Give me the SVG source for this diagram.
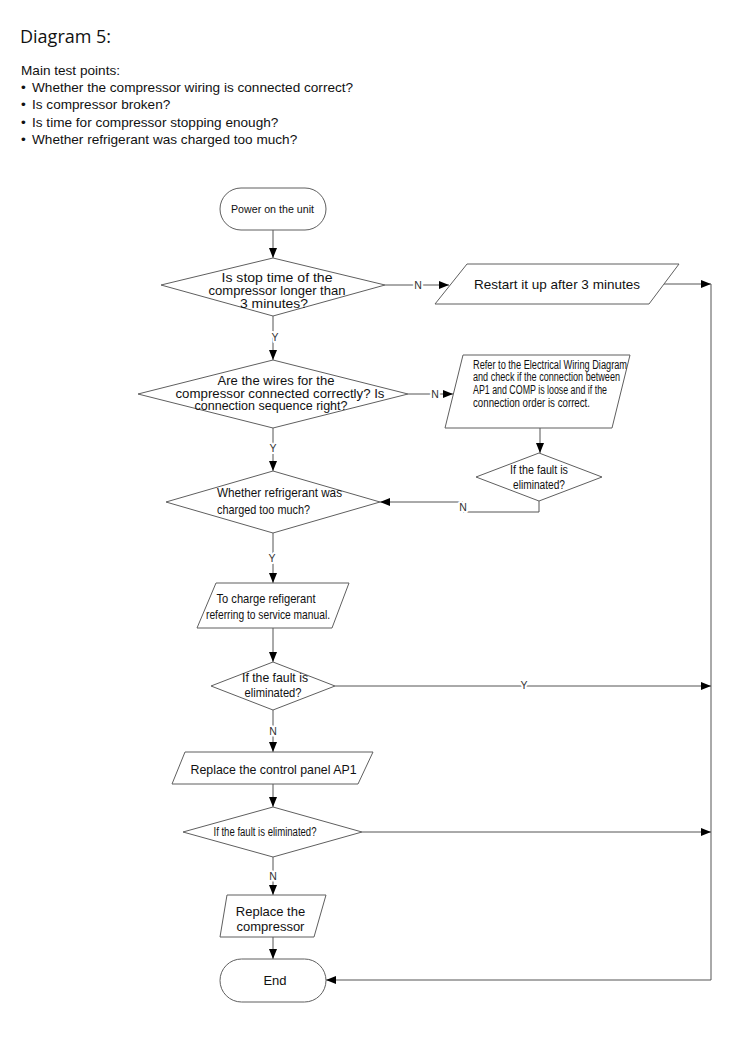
<svg xmlns="http://www.w3.org/2000/svg" width="750" height="1040" viewBox="0 0 750 1040">
<defs>
<style>
.bg{fill:#fff}
.sh{fill:#fff;stroke:#5f5f5f;stroke-width:1}
.cn{fill:none;stroke:#555;stroke-width:1}
.t{font-family:"Liberation Sans",Arial,sans-serif;fill:#111}
.c{text-anchor:middle}
.lb{font-family:"Liberation Sans",Arial,sans-serif;font-size:10.5px;fill:#333;text-anchor:middle;stroke:#fff;stroke-width:4;paint-order:stroke;stroke-linejoin:round}
.hd{font-family:"Liberation Sans",Arial,sans-serif;font-size:13.6px;fill:#111}
</style>
<marker id="arr" markerUnits="userSpaceOnUse" markerWidth="10" markerHeight="8" refX="10" refY="4" orient="auto">
<path d="M0,0 L10,4 L0,8 z" fill="#000"/>
</marker>
</defs>
<rect class="bg" x="0" y="0" width="750" height="1040"/>

<g id="header">
<text x="20" y="43" style="font-family:'Open Sans','DejaVu Sans',sans-serif;font-size:18px;fill:#111">Diagram 5:</text>
<text class="hd" x="21" y="75">Main test points:</text>
<text class="hd" y="91.5"><tspan x="21">•</tspan><tspan x="32">Whether the compressor wiring is connected correct?</tspan></text>
<text class="hd" y="109"><tspan x="21">•</tspan><tspan x="32">Is compressor broken?</tspan></text>
<text class="hd" y="126.5"><tspan x="21">•</tspan><tspan x="32">Is time for compressor stopping enough?</tspan></text>
<text class="hd" y="144"><tspan x="21">•</tspan><tspan x="32">Whether refrigerant was charged too much?</tspan></text>
</g>

<g id="connectors">
<path class="cn" d="M273,230 V258" marker-end="url(#arr)"/>
<path class="cn" d="M385,285 H449" marker-end="url(#arr)"/>
<path class="cn" d="M664,284 H711" marker-end="url(#arr)"/>
<path class="cn" d="M711,284 V980 H326" marker-end="url(#arr)"/>
<path class="cn" d="M273,316 V360" marker-end="url(#arr)"/>
<path class="cn" d="M408,394 H453" marker-end="url(#arr)"/>
<path class="cn" d="M273,428 V471" marker-end="url(#arr)"/>
<path class="cn" d="M540,428 V453" marker-end="url(#arr)"/>
<path class="cn" d="M539,501 V512 H463 V502 H380" marker-end="url(#arr)"/>
<path class="cn" d="M273,533 V583" marker-end="url(#arr)"/>
<path class="cn" d="M273,628 V662" marker-end="url(#arr)"/>
<path class="cn" d="M335,686 H711" marker-end="url(#arr)"/>
<path class="cn" d="M273,710 V752" marker-end="url(#arr)"/>
<path class="cn" d="M273,784 V807" marker-end="url(#arr)"/>
<path class="cn" d="M362,832 H711" marker-end="url(#arr)"/>
<path class="cn" d="M273,857 V895" marker-end="url(#arr)"/>
<path class="cn" d="M273,937 V959" marker-end="url(#arr)"/>
<text class="lb" x="418" y="289">N</text>
<text class="lb" x="275" y="341">Y</text>
<text class="lb" x="435" y="398">N</text>
<text class="lb" x="273" y="452">Y</text>
<text class="lb" x="463" y="511">N</text>
<text class="lb" x="272" y="562">Y</text>
<text class="lb" x="524" y="689">Y</text>
<text class="lb" x="273" y="735">N</text>
<text class="lb" x="273" y="880">N</text>
</g>

<g id="n-start">
<rect class="sh" x="220" y="188" width="106" height="42" rx="21" ry="21"/>
<text class="t c" x="272.5" y="213" font-size="11.5" textLength="83" lengthAdjust="spacingAndGlyphs">Power on the unit</text>
</g>

<g id="n-q1">
<polygon class="sh" points="273,258 385,285 273,316 161,285"/>
<text class="t c" x="277" y="282" font-size="13" textLength="111" lengthAdjust="spacingAndGlyphs">Is stop time of the</text>
<text class="t c" x="277" y="295" font-size="13" textLength="137" lengthAdjust="spacingAndGlyphs">compressor longer than</text>
<text class="t c" x="274" y="308" font-size="13" textLength="68" lengthAdjust="spacingAndGlyphs">3 minutes?</text>
</g>

<g id="n-restart">
<polygon class="sh" points="467,264 679,264 649,304 435,304"/>
<text class="t c" x="557" y="288.5" font-size="13.5">Restart it up after 3 minutes</text>
</g>

<g id="n-q2">
<polygon class="sh" points="273,360 408,394 273,428 138,394"/>
<text class="t c" x="276" y="385" font-size="12.5" textLength="117" lengthAdjust="spacingAndGlyphs">Are the wires for the</text>
<text class="t c" x="280" y="397.5" font-size="12.5" textLength="209" lengthAdjust="spacingAndGlyphs">compressor connected correctly? Is</text>
<text class="t c" x="271" y="410" font-size="12.5" textLength="153" lengthAdjust="spacingAndGlyphs">connection sequence right?</text>
</g>

<g id="n-check">
<polygon class="sh" points="463,355 630,355 612,428 445,428"/>
<text class="t" x="473" y="368.5" font-size="12" textLength="154" lengthAdjust="spacingAndGlyphs">Refer to the Electrical Wiring Diagram</text>
<text class="t" x="473" y="381" font-size="12" textLength="147" lengthAdjust="spacingAndGlyphs">and check if the connection between</text>
<text class="t" x="473" y="393.5" font-size="12" textLength="134" lengthAdjust="spacingAndGlyphs">AP1 and COMP is loose and if the</text>
<text class="t" x="473" y="406.5" font-size="12" textLength="117" lengthAdjust="spacingAndGlyphs">connection order is correct.</text>
</g>

<g id="n-q3">
<polygon class="sh" points="539,453 602,477 539,501 476,477"/>
<text class="t c" x="539" y="474" font-size="12" textLength="58" lengthAdjust="spacingAndGlyphs">If the fault is</text>
<text class="t c" x="539" y="489" font-size="12" textLength="52" lengthAdjust="spacingAndGlyphs">eliminated?</text>
</g>

<g id="n-q4">
<polygon class="sh" points="273,471 380,502 273,533 166,502"/>
<text class="t" x="217" y="496.5" font-size="13.5" textLength="125" lengthAdjust="spacingAndGlyphs">Whether refrigerant was</text>
<text class="t" x="217" y="514" font-size="13.5" textLength="93" lengthAdjust="spacingAndGlyphs">charged too much?</text>
</g>

<g id="n-charge">
<polygon class="sh" points="216,583 349,583 332,628 197,628"/>
<text class="t c" x="266" y="603" font-size="13" textLength="99" lengthAdjust="spacingAndGlyphs">To charge refigerant</text>
<text class="t c" x="268" y="619" font-size="13" textLength="124" lengthAdjust="spacingAndGlyphs">referring to service manual.</text>
</g>

<g id="n-q5">
<polygon class="sh" points="273,662 335,686 273,710 211,686"/>
<text class="t c" x="275" y="681.5" font-size="13" textLength="66" lengthAdjust="spacingAndGlyphs">If the fault is</text>
<text class="t c" x="273" y="696.5" font-size="13" textLength="57" lengthAdjust="spacingAndGlyphs">eliminated?</text>
</g>

<g id="n-replace-ap1">
<polygon class="sh" points="185,752 373,752 358,784 172,784"/>
<text class="t c" x="273.5" y="774" font-size="13.5" textLength="166" lengthAdjust="spacingAndGlyphs">Replace the control panel AP1</text>
</g>

<g id="n-q6">
<polygon class="sh" points="273,807 362,832 273,857 183,832"/>
<text class="t c" x="265" y="835.5" font-size="12" textLength="103" lengthAdjust="spacingAndGlyphs">If the fault is eliminated?</text>
</g>

<g id="n-replace-comp">
<polygon class="sh" points="227,895 326,895 314,937 220,937"/>
<text class="t c" x="270.5" y="916" font-size="13">Replace the</text>
<text class="t c" x="270.5" y="930.5" font-size="13">compressor</text>
</g>

<g id="n-end">
<rect class="sh" x="220" y="959" width="106" height="43" rx="21.5" ry="21.5"/>
<text class="t c" x="275" y="984.5" font-size="13">End</text>
</g>
</svg>
